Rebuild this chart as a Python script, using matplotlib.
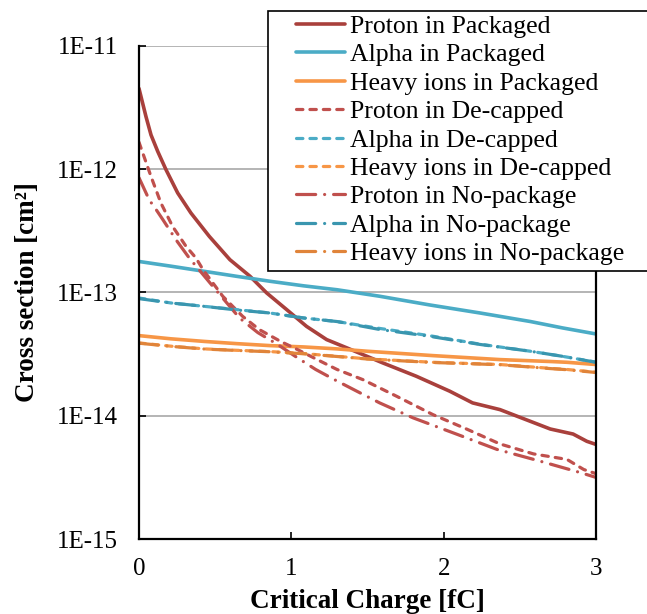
import matplotlib
matplotlib.use("Agg")
import matplotlib.pyplot as plt
from matplotlib.patches import Rectangle
from matplotlib.ticker import FixedLocator, FixedFormatter

plt.rcParams["font.family"] = ["Liberation Serif", "DejaVu Serif"]

# ===== データ (値は図から読み取り) =====
# Proton
x_p_pkg = [0, 0.046, 0.079, 0.123, 0.177, 0.254, 0.341, 0.462, 0.597, 0.729, 0.838,
           0.97, 1.10, 1.232, 1.364, 1.60, 1.82, 2.04, 2.19, 2.37, 2.59, 2.70, 2.85,
           2.94, 3.0]
y_p_pkg = [4.5e-12, 2.66e-12, 1.89e-12, 1.39e-12, 9.9e-13, 6.4e-13, 4.4e-13, 2.84e-13,
           1.84e-13, 1.35e-13, 9.9e-14, 7.24e-14, 5.3e-14, 4.14e-14, 3.55e-14, 2.68e-14,
           2.09e-14, 1.58e-14, 1.27e-14, 1.12e-14, 8.8e-15, 7.8e-15, 7.1e-15, 6.2e-15,
           5.85e-15]

x_p_dec = [0, 0.079, 0.144, 0.221, 0.309, 0.374, 0.42, 0.55, 0.68, 0.79, 0.93, 1.04,
           1.17, 1.30, 1.47, 1.69, 1.93, 2.15, 2.37, 2.59, 2.81, 2.92, 3.0]
y_p_dec = [1.65e-12, 8.7e-13, 5.3e-13, 3.42e-13, 2.36e-13, 1.9e-13, 1.53e-13, 9.3e-14,
           6.4e-14, 4.99e-14, 4.0e-14, 3.44e-14, 2.85e-14, 2.37e-14, 1.96e-14, 1.44e-14,
           1.02e-14, 7.8e-15, 5.9e-15, 4.9e-15, 4.42e-15, 3.66e-15, 3.39e-15]

x_p_nop = [0, 0.068, 0.112, 0.156, 0.243, 0.33, 0.49, 0.66, 0.78, 0.91, 1.04, 1.16,
           1.29, 1.43, 1.58, 1.80, 2.09, 2.35, 2.63, 2.90, 3.0]
y_p_nop = [8.5e-13, 5.6e-13, 4.7e-13, 3.9e-13, 2.67e-13, 1.9e-13, 1.1e-13, 6.2e-14,
           4.72e-14, 3.78e-14, 2.95e-14, 2.37e-14, 1.94e-14, 1.58e-14, 1.27e-14, 9.6e-15,
           7.05e-15, 5.33e-15, 4.29e-15, 3.45e-15, 3.16e-15]

# Alpha
x_a = [0, 0.21, 0.43, 0.64, 0.86, 1.08, 1.30, 1.58, 1.91, 2.24, 2.57, 2.78, 3.0]
y_a_pkg = [1.78e-13, 1.63e-13, 1.48e-13, 1.35e-13, 1.23e-13, 1.13e-13, 1.05e-13, 9.3e-14,
           7.9e-14, 6.8e-14, 5.8e-14, 5.15e-14, 4.6e-14]
y_a_dec = [9.0e-14, 8.2e-14, 7.7e-14, 7.25e-14, 6.8e-14, 6.2e-14, 5.8e-14, 5.1e-14,
           4.45e-14, 3.8e-14, 3.33e-14, 3.03e-14, 2.72e-14]
y_a_nop = [8.9e-14, 8.2e-14, 7.7e-14, 7.2e-14, 6.8e-14, 6.2e-14, 5.8e-14, 5.0e-14,
           4.4e-14, 3.78e-14, 3.33e-14, 3.03e-14, 2.71e-14]

# Heavy ions
x_h = [0, 0.21, 0.43, 0.64, 0.86, 1.08, 1.30, 1.50, 1.93, 2.37, 2.70, 2.81, 3.0]
y_h_pkg = [4.46e-14, 4.2e-14, 4.0e-14, 3.84e-14, 3.7e-14, 3.61e-14, 3.48e-14, 3.33e-14,
           3.07e-14, 2.85e-14, 2.75e-14, 2.71e-14, 2.6e-14]
y_h_dec = [3.89e-14, 3.66e-14, 3.48e-14, 3.39e-14, 3.31e-14, 3.19e-14, 3.03e-14, 2.89e-14,
           2.71e-14, 2.6e-14, 2.42e-14, 2.37e-14, 2.25e-14]
y_h_nop = [3.87e-14, 3.65e-14, 3.47e-14, 3.38e-14, 3.30e-14, 3.18e-14, 3.02e-14, 2.88e-14,
           2.70e-14, 2.59e-14, 2.41e-14, 2.36e-14, 2.24e-14]

y_ticks = [1e-15, 1e-14, 1e-13, 1e-12, 1e-11]
y_tick_labels = ["1E-15", "1E-14", "1E-13", "1E-12", "1E-11"]
x_ticks = [0, 1, 2, 3]
x_tick_labels = ["0", "1", "2", "3"]

# ===== 描画 =====
fig = plt.figure(figsize=(6.47, 6.14), dpi=100)
ax = fig.add_axes([0.2148, 0.1221, 0.7063, 0.8035])

dash = (0, (2.0, 2.2))
dashdot = (0, (6.0, 2.8, 0.01, 2.8))

series = [
    (x_p_pkg, y_p_pkg, "Proton in Packaged", "#A9403C", "-", 2.6),
    (x_a, y_a_pkg, "Alpha in Packaged", "#4BACC6", "-", 2.6),
    (x_h, y_h_pkg, "Heavy ions in Packaged", "#F79646", "-", 2.6),
    (x_p_dec, y_p_dec, "Proton in De-capped", "#C0504D", dash, 2.3),
    (x_a, y_a_dec, "Alpha in De-capped", "#4BACC6", dash, 2.3),
    (x_h, y_h_dec, "Heavy ions in De-capped", "#F79646", dash, 2.3),
    (x_p_nop, y_p_nop, "Proton in No-package", "#C0504D", dashdot, 2.3),
    (x_a, y_a_nop, "Alpha in No-package", "#3A96AF", dashdot, 2.3),
    (x_h, y_h_nop, "Heavy ions in No-package", "#E0843A", dashdot, 2.3),
]
for xs, ys, label, color, ls, lw in series:
    ax.plot(xs, ys, color=color, linestyle=ls, linewidth=lw, label=label,
            dash_capstyle="round", solid_capstyle="round")

ax.set_yscale("log")
ax.set_xlim(0, 3)
ax.set_ylim(1e-15, 1e-11)
ax.yaxis.set_major_locator(FixedLocator(y_ticks))
ax.yaxis.set_major_formatter(FixedFormatter(y_tick_labels))
ax.yaxis.set_minor_locator(FixedLocator([]))
ax.set_xticks(x_ticks)
ax.set_xticklabels(x_tick_labels)

ax.grid(True, axis="y", color="#A0A0A0", linewidth=1.1)
ax.set_axisbelow(True)
ax.spines["top"].set_visible(False)
for side in ["left", "bottom", "right"]:
    ax.spines[side].set_linewidth(1.6)
    ax.spines[side].set_color("black")

ax.tick_params(axis="both", direction="in", length=5, width=1.2, labelsize=18)
ax.tick_params(axis="x", pad=14)
ax.tick_params(axis="y", pad=15)

ax.set_xlabel("Critical Charge [fC]", fontsize=19.5, fontweight="bold", labelpad=6)
ax.set_ylabel("Cross section [cm²]", fontsize=19.5, fontweight="bold", labelpad=12)

# 凡例 (枠は図の右端からはみ出す)
leg = ax.legend(loc="upper left", bbox_to_anchor=(296 / 647, 1 - 15 / 614),
                bbox_transform=fig.transFigure, borderaxespad=0, borderpad=0,
                fontsize=18.5, frameon=False, handlelength=1.9,
                handletextpad=0.2, labelspacing=0.21)
leg.set_zorder(6)
frame = Rectangle((268 / 647, 1 - 271 / 614), 0.6, 260 / 614,
                  transform=fig.transFigure, facecolor="white", edgecolor="black",
                  linewidth=1.2, clip_on=False, zorder=5)
ax.add_patch(frame)

fig.savefig("out.png", dpi=100)
